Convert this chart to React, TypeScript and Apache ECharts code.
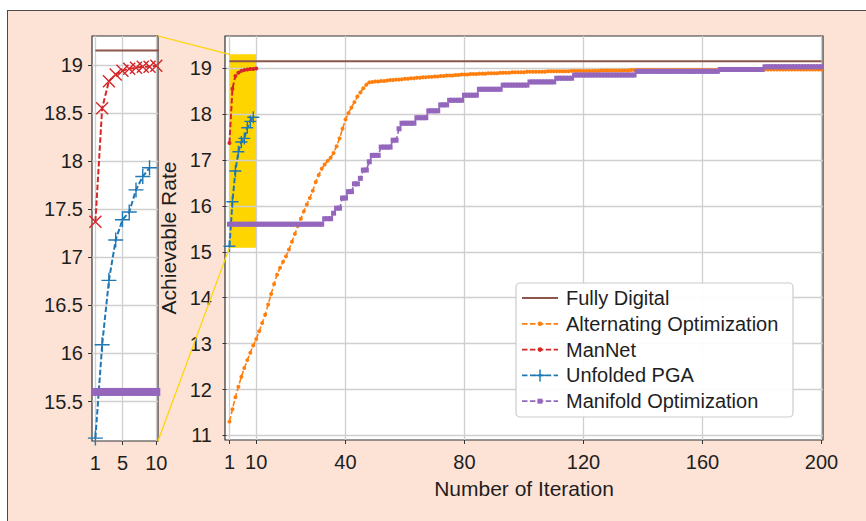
import { useEffect, useRef } from "react";
import * as echarts from "echarts";

// ---------------- data ----------------
const seriesNames = [
  "Fully Digital",
  "Alternating Optimization",
  "ManNet",
  "Unfolded PGA",
  "Manifold Optimization",
];

const fullyDigital = 19.15;

const alternatingOpt = [
  11.30, 11.57, 11.83, 12.06, 12.28, 12.47, 12.64, 12.80, 12.96, 13.10,
  13.27, 13.45, 13.63, 13.85, 14.08, 14.30, 14.50, 14.65, 14.78, 14.90,
  15.05, 15.22, 15.39, 15.56, 15.72, 15.88, 16.03, 16.17, 16.33, 16.52,
  16.67, 16.81, 16.90, 16.98, 17.05, 17.15, 17.30, 17.47, 17.68, 17.88,
  18.02, 18.14, 18.26, 18.38, 18.47, 18.56, 18.64, 18.69, 18.70, 18.71,
  18.71, 18.72, 18.72, 18.73, 18.74, 18.74, 18.75, 18.75, 18.76, 18.77,
  18.77, 18.78, 18.78, 18.79, 18.79, 18.80, 18.80, 18.81, 18.81, 18.82,
  18.82, 18.83, 18.83, 18.84, 18.84, 18.84, 18.85, 18.85, 18.86, 18.86,
  18.86, 18.87, 18.87, 18.87, 18.88, 18.88, 18.88, 18.89, 18.89, 18.89,
  18.89, 18.90, 18.90, 18.90, 18.90, 18.91, 18.91, 18.91, 18.91, 18.91,
  18.92, 18.92, 18.92, 18.92, 18.92, 18.92, 18.92, 18.93, 18.93, 18.93,
  18.93, 18.93, 18.93, 18.93, 18.93, 18.94, 18.94, 18.94, 18.94, 18.94,
  18.94, 18.94, 18.94, 18.94, 18.94, 18.95, 18.95, 18.95, 18.95, 18.95,
  18.95, 18.95, 18.95, 18.95, 18.95, 18.96, 18.96, 18.96, 18.96, 18.96,
  18.96, 18.96, 18.96, 18.96, 18.96, 18.96, 18.96, 18.96, 18.96, 18.96,
  18.96, 18.96, 18.96, 18.96, 18.96, 18.96, 18.96, 18.96, 18.96, 18.96,
  18.96, 18.96, 18.96, 18.96, 18.96, 18.96, 18.96, 18.96, 18.96, 18.96,
  18.97, 18.97, 18.97, 18.97, 18.97, 18.97, 18.97, 18.97, 18.97, 18.97,
  18.97, 18.97, 18.97, 18.97, 18.97, 18.97, 18.97, 18.97, 18.97, 18.97,
  18.97, 18.97, 18.97, 18.97, 18.97, 18.97, 18.97, 18.97, 18.97, 18.97,
];

const manNet = [17.37, 18.55, 18.83, 18.90, 18.94, 18.96, 18.97, 18.98, 18.98, 18.99];

const unfoldedPGA = [15.12, 16.09, 16.76, 17.18, 17.39, 17.47, 17.70, 17.84, 17.93];

const manifoldOpt = [
  15.60, 15.60, 15.60, 15.60, 15.60, 15.60, 15.60, 15.60, 15.60, 15.60,
  15.60, 15.60, 15.60, 15.60, 15.60, 15.60, 15.60, 15.60, 15.60, 15.60,
  15.60, 15.60, 15.60, 15.60, 15.60, 15.60, 15.60, 15.60, 15.60, 15.60,
  15.60, 15.60, 15.72, 15.72, 15.72, 15.84, 15.95, 15.95, 16.17, 16.17,
  16.31, 16.31, 16.48, 16.48, 16.60, 16.78, 16.78, 16.96, 17.10, 17.10,
  17.10, 17.28, 17.28, 17.28, 17.28, 17.43, 17.43, 17.68, 17.80, 17.80,
  17.80, 17.80, 17.80, 17.92, 17.92, 17.92, 17.92, 18.07, 18.07, 18.07,
  18.07, 18.20, 18.20, 18.20, 18.30, 18.30, 18.30, 18.30, 18.30, 18.41,
  18.41, 18.41, 18.41, 18.41, 18.54, 18.54, 18.54, 18.54, 18.54, 18.54,
  18.54, 18.54, 18.63, 18.63, 18.63, 18.63, 18.63, 18.63, 18.63, 18.63,
  18.63, 18.70, 18.70, 18.70, 18.70, 18.70, 18.70, 18.70, 18.70, 18.70,
  18.78, 18.78, 18.78, 18.78, 18.78, 18.78, 18.85, 18.85, 18.85, 18.85,
  18.85, 18.85, 18.85, 18.85, 18.85, 18.85, 18.85, 18.85, 18.85, 18.85,
  18.85, 18.85, 18.85, 18.85, 18.85, 18.85, 18.85, 18.93, 18.93, 18.93,
  18.93, 18.93, 18.93, 18.93, 18.93, 18.93, 18.93, 18.93, 18.93, 18.93,
  18.93, 18.93, 18.93, 18.93, 18.93, 18.93, 18.93, 18.93, 18.93, 18.93,
  18.93, 18.93, 18.93, 18.93, 18.93, 18.97, 18.97, 18.97, 18.97, 18.97,
  18.97, 18.97, 18.97, 18.97, 18.97, 18.97, 18.97, 18.97, 18.97, 18.97,
  19.03, 19.03, 19.03, 19.03, 19.03, 19.03, 19.03, 19.03, 19.03, 19.03,
  19.03, 19.03, 19.03, 19.03, 19.03, 19.03, 19.03, 19.03, 19.03, 19.03,
];

const mainXTicks = [1, 10, 40, 80, 120, 160, 200];
const mainYTicks = [11, 12, 13, 14, 15, 16, 17, 18, 19];
const insetXTicks = [1, 5, 10];
const insetYTicks = [15.5, 16, 16.5, 17, 17.5, 18, 18.5, 19];

const mainXRange = [-0.5, 200.5];
const mainYRange = [10.9, 19.7];
const insetXRange = [0.5, 10.25];
const insetYRange = [15.09, 19.3];
const zoomIterRange = [1, 10];

// ---------------- styles ----------------
const FONT = '"Liberation Sans", Arial, Helvetica, sans-serif';
const BROWN = "#8c564b";
const ORANGE = "#ff7f0e";
const RED = "#d62728";
const BLUE = "#1f77b4";
const PURPLE = "#9467bd";
const GOLD = "#ffd500";
const GRIDC = "#cfcfcf";
const SPINE = "#333333";
const TXT = "#1e1e1e";
const DASH = [5.5, 2.4];
const PLUS = "path://M5,0L5,10M0,5L10,5";
const CROSS = "path://M0,0L10,10M10,0L0,10";

const INSET = { left: 92, top: 36, width: 66, height: 405 };
const MAIN = { left: 225, top: 36, width: 598, height: 404 };

const toPairs = (vals: number[]) => vals.map((v, i) => [i + 1, v]);

function makeAxis(gridIndex: number, range: number[], ticks: number[], margin: number, extra: any = {}) {
  return {
    type: "value",
    gridIndex,
    min: range[0],
    max: range[1],
    axisLine: { show: false },
    axisTick: { show: true, length: 4, customValues: ticks, lineStyle: { color: SPINE, width: 1 } },
    axisLabel: { customValues: ticks, fontSize: 20, color: TXT, fontFamily: FONT, margin },
    splitLine: { show: true, lineStyle: { color: GRIDC, width: 1.3 } },
    ...extra,
  };
}

function seriesSet(axisIndex: number, inset: boolean) {
  const base = {
    type: "line",
    xAxisIndex: axisIndex,
    yAxisIndex: axisIndex,
    animation: false,
    silent: true,
    emphasis: { disabled: true },
    clip: true,
  };
  return [
    {
      ...base,
      name: seriesNames[0],
      data: [[1, fullyDigital], [alternatingOpt.length, fullyDigital]],
      symbol: "none",
      lineStyle: { color: BROWN, width: 2 },
    },
    {
      ...base,
      name: seriesNames[1],
      data: toPairs(alternatingOpt),
      symbol: "circle",
      symbolSize: 4,
      itemStyle: { color: ORANGE },
      lineStyle: { color: ORANGE, width: 1.6, type: DASH },
    },
    {
      ...base,
      name: seriesNames[2],
      data: toPairs(manNet),
      symbol: inset ? CROSS : "circle",
      symbolSize: inset ? 12 : 4,
      itemStyle: { color: RED, borderColor: RED, borderWidth: inset ? 1.4 : 0 },
      lineStyle: { color: RED, width: 2, type: DASH },
    },
    {
      ...base,
      name: seriesNames[3],
      data: toPairs(unfoldedPGA),
      symbol: PLUS,
      symbolSize: inset ? 15 : 12,
      itemStyle: { color: BLUE, borderColor: BLUE, borderWidth: 1.4 },
      lineStyle: { color: BLUE, width: 2, type: DASH },
    },
    {
      ...base,
      name: seriesNames[4],
      data: toPairs(manifoldOpt),
      symbol: "rect",
      symbolSize: inset ? 8 : 5,
      itemStyle: { color: PURPLE },
      lineStyle: { color: PURPLE, width: 1.6, type: DASH },
    },
  ];
}

export default function App() {
  const ref = useRef<HTMLDivElement>(null);

  useEffect(() => {
    const chart = echarts.init(ref.current!, null, { renderer: "svg" });
    const option: any = {
      animation: false,
      textStyle: { fontFamily: FONT },
      grid: [
        { ...INSET, show: true, backgroundColor: "transparent", borderColor: SPINE, borderWidth: 1.2, containLabel: false },
        { ...MAIN, show: true, backgroundColor: "transparent", borderColor: SPINE, borderWidth: 1.2, containLabel: false },
      ],
      xAxis: [
        makeAxis(0, insetXRange, insetXTicks, 12),
        makeAxis(1, mainXRange, mainXTicks, 12, {
          name: "Number of Iteration",
          nameLocation: "middle",
          nameGap: 38,
          nameTextStyle: { fontSize: 21, color: TXT, fontFamily: FONT },
        }),
      ],
      yAxis: [
        makeAxis(0, insetYRange, insetYTicks, 9),
        makeAxis(1, mainYRange, mainYTicks, 13, {
          name: "Achievable Rate",
          nameLocation: "middle",
          nameGap: 42,
          nameTextStyle: { fontSize: 21, color: TXT, fontFamily: FONT },
        }),
      ],
      series: [...seriesSet(0, true), ...seriesSet(1, false)],
    };
    chart.setOption(option);

    const insetTR = chart.convertToPixel({ gridIndex: 0 }, [insetXRange[1], insetYRange[1]]) as number[];
    const insetBR = chart.convertToPixel({ gridIndex: 0 }, [insetXRange[1], insetYRange[0]]) as number[];
    const zTL = chart.convertToPixel({ gridIndex: 1 }, [zoomIterRange[0], insetYRange[1]]) as number[];
    const zBR = chart.convertToPixel({ gridIndex: 1 }, [zoomIterRange[1], insetYRange[0]]) as number[];

    // legend
    const lx = 516, ly = 283, lw = 277, lh = 134, rowGap = 25.8;
    const legendEls: any[] = [
      {
        type: "rect",
        z: 20,
        shape: { x: lx, y: ly, width: lw, height: lh, r: 4 },
        style: { fill: "rgba(255,255,255,0.92)", stroke: "#cccccc", lineWidth: 1.2 },
      },
    ];
    const colors = [BROWN, ORANGE, RED, BLUE, PURPLE];
    seriesNames.forEach((name, i) => {
      const cy = ly + 15 + i * rowGap;
      const x1 = lx + 6, x2 = lx + 42, mx = (x1 + x2) / 2;
      legendEls.push({
        type: "line",
        z: 21,
        shape: { x1, y1: cy, x2, y2: cy },
        style: { stroke: colors[i], lineWidth: i === 0 ? 2 : 1.8, lineDash: i === 0 ? null : DASH },
      });
      if (i === 1 || i === 2) {
        legendEls.push({ type: "circle", z: 22, shape: { cx: mx, cy, r: 2.3 }, style: { fill: colors[i] } });
      } else if (i === 3) {
        legendEls.push({ type: "line", z: 22, shape: { x1: mx - 6, y1: cy, x2: mx + 6, y2: cy }, style: { stroke: BLUE, lineWidth: 1.5 } });
        legendEls.push({ type: "line", z: 22, shape: { x1: mx, y1: cy - 6, x2: mx, y2: cy + 6 }, style: { stroke: BLUE, lineWidth: 1.5 } });
      } else if (i === 4) {
        legendEls.push({ type: "rect", z: 22, shape: { x: mx - 2.5, y: cy - 2.5, width: 5, height: 5 }, style: { fill: PURPLE } });
      }
      legendEls.push({
        type: "text",
        z: 22,
        style: {
          text: name,
          x: lx + 50,
          y: cy,
          fill: TXT,
          fontSize: 20,
          fontFamily: FONT,
          verticalAlign: "middle",
          align: "left",
        },
      });
    });

    chart.setOption({
      graphic: [
        {
          type: "rect",
          z: -1,
          silent: true,
          shape: { x: zTL[0], y: zTL[1], width: zBR[0] - zTL[0], height: zBR[1] - zTL[1] },
          style: { fill: GOLD },
        },
        {
          type: "line",
          z: 15,
          silent: true,
          shape: { x1: insetTR[0], y1: insetTR[1], x2: zTL[0], y2: zTL[1] },
          style: { stroke: GOLD, lineWidth: 1.2 },
        },
        {
          type: "line",
          z: 15,
          silent: true,
          shape: { x1: insetBR[0], y1: insetBR[1], x2: zTL[0], y2: zBR[1] },
          style: { stroke: GOLD, lineWidth: 1.2 },
        },
        ...legendEls,
      ],
    });

    return () => chart.dispose();
  }, []);

  return (
    <div style={{ position: "absolute", left: 0, top: 0, width: 866, height: 521, background: "#ffffff", overflow: "hidden" }}>
      <div
        style={{
          position: "absolute",
          left: 7,
          top: 10,
          width: 900,
          height: 600,
          background: "#fde2d6",
          borderTop: "1.5px solid #4a4a4a",
          borderLeft: "1.5px solid #4a4a4a",
        }}
      />
      <div style={{ position: "absolute", background: "#fff", left: INSET.left, top: INSET.top, width: INSET.width, height: INSET.height }} />
      <div style={{ position: "absolute", background: "#fff", left: MAIN.left, top: MAIN.top, width: MAIN.width, height: MAIN.height }} />
      <div ref={ref} style={{ position: "absolute", left: 0, top: 0, width: 866, height: 521 }} />
    </div>
  );
}
